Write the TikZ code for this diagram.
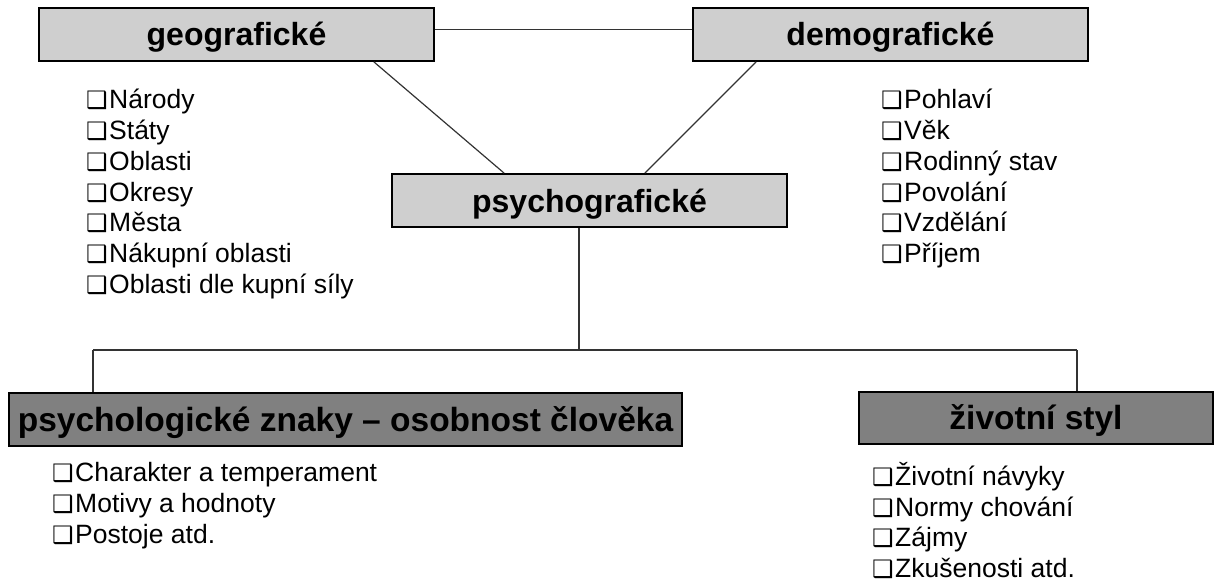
\documentclass[tikz,border=0pt]{standalone}
\usepackage{fontspec}
\setmainfont{Liberation Sans}
\newfontfamily\symf{DejaVu Sans}
\usetikzlibrary{calc,shadows}

\newcommand\itm{{\symf\fontsize{24}{24}\selectfont\char"2751}\hspace{1.5pt}}

\tikzset{
  seg/.style={draw=black, line width=1.8pt, fill=black!19, inner sep=0pt,
    text height=29pt, text depth=6pt,
    font=\fontsize{32}{32}\selectfont\bfseries,
    drop shadow={shadow xshift=1pt, shadow yshift=-1pt, opacity=1, fill=black!70}},
  sub/.style={seg, fill=black!50, font=\fontsize{33.5}{33.5}\selectfont\bfseries},
  lst/.style={anchor=north west, align=left, inner sep=0pt,
    font=\fontsize{26.5}{30.8}\selectfont},
  link/.style={draw=black!80, line width=1.2pt}
}

\begin{document}
\begin{tikzpicture}[x=1pt, y=-1pt]
\useasboundingbox (0,0) rectangle (1219,583);

\node[seg, minimum width=395, minimum height=53](g) at (236.5,34.5) {geografické};
\node[seg, minimum width=395, minimum height=53](d) at (890.5,34.5) {demografické};
\node[seg, minimum width=395, minimum height=53](p) at (589.5,200.5) {psychografické};
\node[sub, minimum width=673, minimum height=53](l) at (345.5,419.5) {psychologické znaky -- osobnost člověka};
\node[sub, minimum width=354, minimum height=52](r) at (1036,418) {životní styl};

\node[lst](gl) at (86,89) {\itm Národy\\\itm Státy\\\itm Oblasti\\\itm Okresy\\\itm Města\\\itm Nákupní oblasti\\\itm Oblasti dle kupní síly};
\node[lst](dl) at (881,89) {\itm Pohlaví\\\itm Věk\\\itm Rodinný stav\\\itm Povolání\\\itm Vzdělání\\\itm Příjem};
\node[lst](ll) at (52,462) {\itm Charakter a temperament\\\itm Motivy a hodnoty\\\itm Postoje atd.};
\node[lst](rl) at (872,462) {\itm Životní návyky\\\itm Normy chování\\\itm Zájmy\\\itm Zkušenosti atd.};

\coordinate (hub) at (579,350);
\coordinate (j1) at (93,350);
\coordinate (j2) at (1077,350);

\draw[link] ($(g.east)+(0,-5)$) -- ($(d.west)+(0,-5)$);
\draw[link] ($(g.south east)+(-61,0)$) -- ($(p.north west)+(113,0)$);
\draw[link] ($(d.south west)+(64,0)$) -- ($(p.north east)+(-143,0)$);
\draw[link] (p.south -| hub) -- (hub);
\draw[link] (j1) -- (j2);
\draw[link] (j1) -- (j1 |- l.north);
\draw[link] (j2) -- (j2 |- r.north);
\end{tikzpicture}
\end{document}
